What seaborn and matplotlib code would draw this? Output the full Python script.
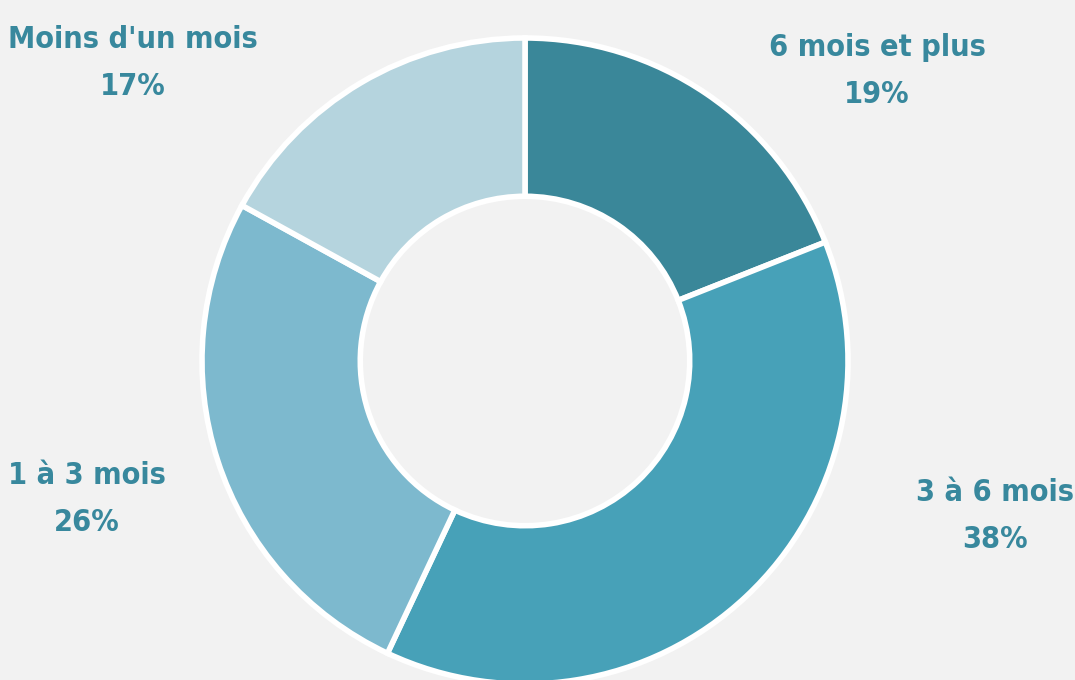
import matplotlib.pyplot as plt
import seaborn as sns

sns.set_theme(style="white")
plt.rcParams["font.family"] = ["DejaVu Sans"]

categories = ["6 mois et plus", "3 à 6 mois", "1 à 3 mois", "Moins d'un mois"]
shares = [19, 38, 26, 17]
colors = ["#3a8799", "#47a1b8", "#7db9ce", "#b5d4de"]
label_pos = [(877, 71), (995, 516), (87, 499), (133, 63)]  # pixel centres of labels

bg = "#f2f2f2"
text_color = "#38889d"

W, H = 1075, 680
cx, cy, r = 525, 361, 323

fig = plt.figure(figsize=(W / 100, H / 100), dpi=100, facecolor=bg)
ax = fig.add_axes([0, 0, 1, 1])
ax.set_facecolor(bg)

ax.pie(shares, colors=colors, startangle=90, counterclock=False, radius=1,
       wedgeprops=dict(width=0.49, edgecolor="white", linewidth=4))

ax.set_xlim(-cx / r, (W - cx) / r)
ax.set_ylim(-(H - cy) / r, cy / r)
ax.set_aspect("equal")
ax.axis("off")

for cat, val, (px, py) in zip(categories, shares, label_pos):
    ax.text(px / W, 1 - py / H, f"{cat}\n{val}%", transform=ax.transAxes,
            ha="center", va="center", fontsize=22, fontweight="bold",
            fontstretch="condensed", color=text_color, linespacing=1.8)

fig.savefig("out.png", dpi=100, facecolor=bg)
